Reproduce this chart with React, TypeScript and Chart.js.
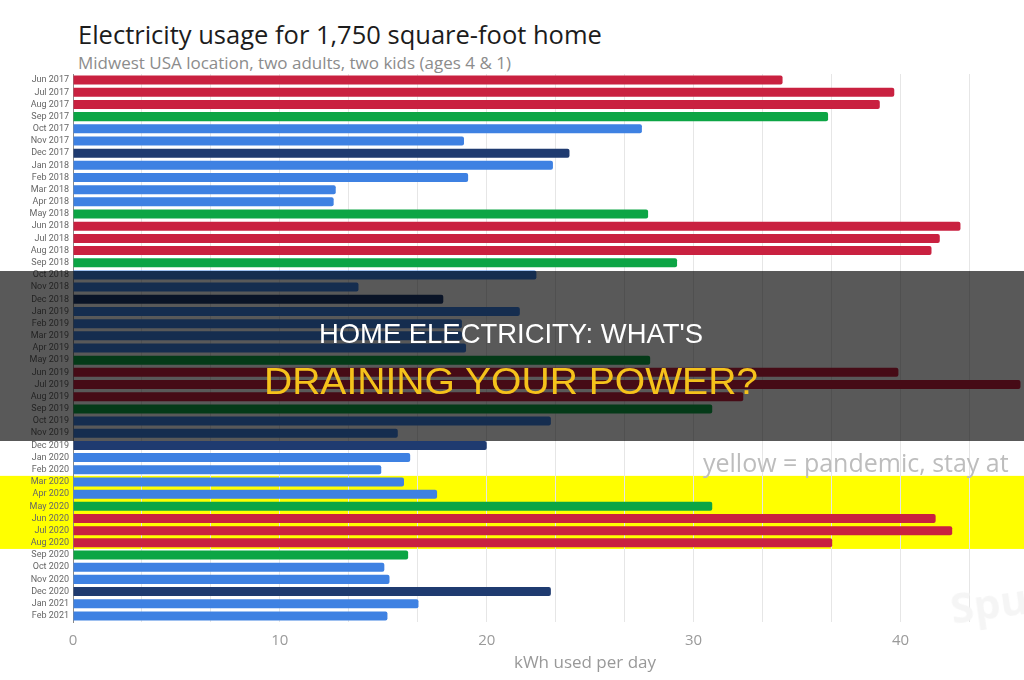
import { useEffect, useLayoutEffect, useRef } from "react";
import { Chart, registerables } from "chart.js";

Chart.register(...registerables);

const MONTHS = [
  "Jun 2017", "Jul 2017", "Aug 2017", "Sep 2017", "Oct 2017", "Nov 2017", "Dec 2017",
  "Jan 2018", "Feb 2018", "Mar 2018", "Apr 2018", "May 2018", "Jun 2018", "Jul 2018",
  "Aug 2018", "Sep 2018", "Oct 2018", "Nov 2018", "Dec 2018",
  "Jan 2019", "Feb 2019", "Mar 2019", "Apr 2019", "May 2019", "Jun 2019", "Jul 2019",
  "Aug 2019", "Sep 2019", "Oct 2019", "Nov 2019", "Dec 2019",
  "Jan 2020", "Feb 2020", "Mar 2020", "Apr 2020", "May 2020", "Jun 2020", "Jul 2020",
  "Aug 2020", "Sep 2020", "Oct 2020", "Nov 2020", "Dec 2020",
  "Jan 2021", "Feb 2021",
];

const KWH_PER_DAY = [
  34.3, 39.7, 39.0, 36.5, 27.5, 18.9, 24.0,
  23.2, 19.1, 12.7, 12.6, 27.8, 42.9, 41.9,
  41.5, 29.2, 22.4, 13.8, 17.9,
  21.6, 18.8, 18.8, 19.0, 27.9, 39.9, 45.8,
  32.4, 30.9, 23.1, 15.7, 20.0,
  16.3, 14.9, 16.0, 17.6, 30.9, 41.7, 42.5,
  36.7, 16.2, 15.05, 15.3, 23.1,
  16.7, 15.2,
];

const X_TICK_LABELS = [0, 10, 20, 30, 40];
const PANDEMIC_FIRST = "Mar 2020";
const PANDEMIC_LAST = "Aug 2020";

const TITLE = "Electricity usage for 1,750 square-foot home";
const SUBTITLE = "Midwest USA location, two adults, two kids (ages 4 & 1)";
const NOTE = "yellow = pandemic, stay at";
const X_TITLE = "kWh used per day";
const BANNER_1 = "HOME ELECTRICITY: WHAT'S";
const BANNER_2 = "DRAINING YOUR POWER?";

function seasonColor(label: string): string {
  const m = label.slice(0, 3);
  if (m === "Jun" || m === "Jul" || m === "Aug") return "#c92140";
  if (m === "May" || m === "Sep") return "#0ca545";
  if (m === "Dec") return "#1f3b70";
  return "#3e81e2";
}

const pandemicBand = {
  id: "pandemicBand",
  beforeDraw(chart: any) {
    const y = chart.scales.y;
    if (!y) return;
    const i0 = MONTHS.indexOf(PANDEMIC_FIRST);
    const i1 = MONTHS.indexOf(PANDEMIC_LAST);
    const half = (y.getPixelForValue(1) - y.getPixelForValue(0)) / 2;
    const top = y.getPixelForValue(i0) - half;
    const bottom = y.getPixelForValue(i1) + half;
    const ctx = chart.ctx;
    ctx.save();
    ctx.fillStyle = "#ffff00";
    ctx.fillRect(0, top, chart.width, bottom - top);
    ctx.restore();
  },
};

function FitText(props: {
  text: string;
  width: number;
  centerX: number;
  top: number;
  size: number;
  color: string;
}) {
  const ref = useRef<HTMLSpanElement | null>(null);
  useLayoutEffect(() => {
    const el = ref.current;
    if (!el) return;
    const w = el.offsetWidth || 1;
    el.style.transform = `translateX(-50%) scaleX(${props.width / w})`;
  }, [props.text, props.width]);
  return (
    <span
      ref={ref}
      style={{
        position: "absolute",
        left: props.centerX,
        top: props.top,
        display: "inline-block",
        transformOrigin: "50% 50%",
        transform: "translateX(-50%)",
        fontFamily: "'Liberation Sans', Arial, sans-serif",
        fontSize: props.size,
        lineHeight: 1,
        color: props.color,
        whiteSpace: "nowrap",
      }}
    >
      {props.text}
    </span>
  );
}

export default function App() {
  const canvasRef = useRef<HTMLCanvasElement | null>(null);

  useEffect(() => {
    if (!canvasRef.current) return;
    const chart = new Chart(canvasRef.current, {
      type: "bar",
      data: {
        labels: MONTHS,
        datasets: [
          {
            data: KWH_PER_DAY,
            backgroundColor: MONTHS.map(seasonColor),
            borderRadius: 2,
            barPercentage: 0.74,
            categoryPercentage: 1,
          },
        ],
      },
      plugins: [pandemicBand],
      options: {
        indexAxis: "y",
        animation: false,
        responsive: true,
        maintainAspectRatio: false,
        layout: { padding: { top: 74, left: 0, right: 3, bottom: 0 } },
        plugins: {
          legend: { display: false },
          tooltip: { enabled: false },
          title: { display: false },
        },
        scales: {
          x: {
            type: "linear",
            min: 0,
            max: 49.5,
            afterBuildTicks(scale: any) {
              scale.ticks = Array.from({ length: 15 }, (_, i) => ({ value: (i * 10) / 3 }));
            },
            afterFit(scale: any) {
              scale.height = 58;
            },
            grid: { color: "#e6e6e6", drawTicks: false, lineWidth: 1 },
            border: { display: false },
            ticks: {
              autoSkip: false,
              maxRotation: 0,
              padding: 10,
              color: "#9a9a9a",
              font: { family: "'Open Sans', sans-serif", size: 15 },
              callback(v: any) {
                const n = Number(v);
                const r = Math.round(n);
                return Math.abs(n - r) < 0.01 && X_TICK_LABELS.includes(r) ? String(r) : "";
              },
            },
            title: {
              display: true,
              text: X_TITLE,
              color: "#999999",
              font: { family: "'Open Sans', sans-serif", size: 17 },
              padding: { top: 0, bottom: 7 },
            },
          },
          y: {
            type: "category",
            afterFit(scale: any) {
              scale.width = 73;
            },
            grid: { display: false, drawTicks: false },
            border: { display: true, color: "#8a8a8a", width: 1 },
            ticks: {
              autoSkip: false,
              padding: 4,
              color: "#666666",
              font: { family: "Roboto, sans-serif", size: 9 },
            },
          },
        },
      },
    });
    return () => chart.destroy();
  }, []);

  return (
    <div
      style={{
        position: "fixed",
        left: 0,
        top: 0,
        width: 1024,
        height: 680,
        overflow: "hidden",
        background: "#ffffff",
      }}
    >
      <div
        style={{
          position: "absolute",
          left: 78,
          top: 22,
          fontFamily: "'Open Sans', sans-serif",
          fontSize: 25.5,
          lineHeight: 1,
          color: "#1c1c1c",
          whiteSpace: "nowrap",
        }}
      >
        {TITLE}
      </div>
      <div
        style={{
          position: "absolute",
          left: 78,
          top: 53.5,
          fontFamily: "'Open Sans', sans-serif",
          fontSize: 17,
          lineHeight: 1,
          color: "#8c8c8c",
          whiteSpace: "nowrap",
        }}
      >
        {SUBTITLE}
      </div>
      <div style={{ position: "absolute", left: 0, top: 0, width: 1100, height: 680 }}>
        <canvas ref={canvasRef} />
      </div>
      <div
        style={{
          position: "absolute",
          left: 703,
          top: 450,
          fontFamily: "'Open Sans', sans-serif",
          fontSize: 25,
          lineHeight: 1,
          color: "#bdbdbd",
          whiteSpace: "nowrap",
        }}
      >
        {NOTE}
      </div>
      <div
        style={{
          position: "absolute",
          left: 950,
          top: 580,
          fontFamily: "'Open Sans', sans-serif",
          fontWeight: 700,
          fontSize: 42,
          lineHeight: 1,
          color: "#f5f5f5",
          whiteSpace: "nowrap",
          transform: "rotate(-8deg)",
        }}
      >
        Spud
      </div>
      <div
        style={{
          position: "absolute",
          left: 0,
          top: 271,
          width: 1024,
          height: 170,
          background: "rgba(0,0,0,0.65)",
        }}
      >
        <FitText text={BANNER_1} width={384} centerX={511} top={48.5} size={28} color="#ffffff" />
        <FitText text={BANNER_2} width={494} centerX={511} top={93} size={36.3} color="#f5c21b" />
      </div>
    </div>
  );
}
